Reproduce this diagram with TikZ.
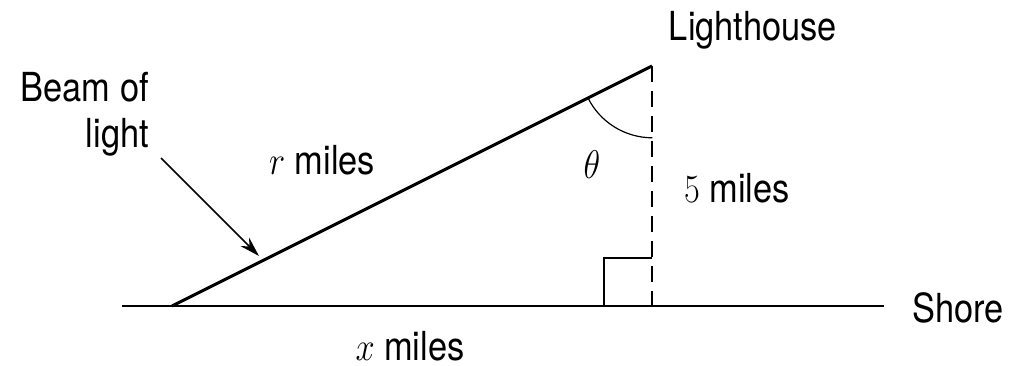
\RequirePackage{fix-cm}
\documentclass[tikz,border=0pt]{standalone}
\usepackage{fontspec}
\setmainfont{TeX Gyre Heros}
\usetikzlibrary{arrows.meta}
\begin{document}
\begin{tikzpicture}[x=1pt,y=-1pt,
  lbl/.style={font=\fontsize{40}{46}\selectfont, xscale=0.86, inner sep=0pt},
  beam/.style={line width=3pt},
  thin/.style={line width=1.8pt},
  dashline/.style={line width=1.8pt, dash pattern=on 16pt off 9pt}]
\useasboundingbox (0,0) rectangle (1025,366);
\coordinate (L) at (652,66);
\coordinate (A) at (172,306);
\coordinate (F) at (652,306);
\coordinate (S1) at (122,306);
\coordinate (S2) at (884,306);
\coordinate (Q1) at (652,258);
\coordinate (Q2) at (604,258);
\coordinate (Q3) at (604,306);
\coordinate (P1) at (161,158);
\coordinate (P2) at (259,256);
\draw[thin] (S1) -- (S2);
\draw[beam] (A) -- (L);
\draw[dashline] (L) -- (F);
\draw[thin] (Q1) -- (Q2) -- (Q3);
\draw[line width=1.2pt] (588,98) arc[start angle=153.43, end angle=90, radius=72];
\draw[line width=1.6pt, -{Stealth[length=20pt,width=12pt]}] (P1) -- (P2);
\node[lbl] (lh) at (753,30) {Lighthouse};
\node[lbl, anchor=east, align=right] (bl) at (149,114) {Beam of\\light};
\node[lbl] (rm) at (322,160) {$r$ miles};
\node[lbl] (th) at (592,165) {$\theta$};
\node[lbl] (fm) at (737,188) {$5$ miles};
\node[lbl] (sh) at (958,308) {Shore};
\node[lbl] (xm) at (410,346) {$x$ miles};
\end{tikzpicture}
\end{document}
